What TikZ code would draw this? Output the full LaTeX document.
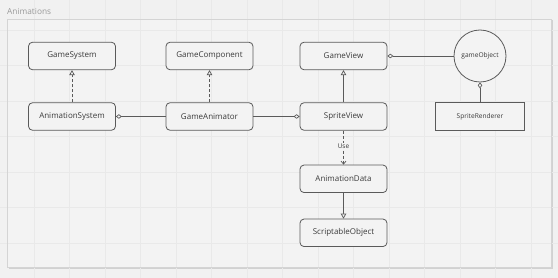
\documentclass[tikz,border=0pt]{standalone}
\usepackage{fontspec}
\setmainfont{Open Sans}
\usetikzlibrary{arrows.meta}
\definecolor{bgc}{HTML}{F1F1F1}
\definecolor{framec}{HTML}{F3F3F3}
\definecolor{gridc}{HTML}{E9E9E9}
\definecolor{linec}{HTML}{5A5A5A}
\definecolor{txtc}{HTML}{3A3A3A}
\tikzset{
  umlbox/.style={draw=linec, line width=0.8pt, fill=framec, rounded corners=4pt,
    minimum width=87pt, minimum height=27.5pt, inner sep=0pt, text=txtc,
    font=\fontsize{8}{9}\selectfont},
  plainbox/.style={draw=linec, line width=0.8pt, fill=framec,
    minimum width=88.6pt, minimum height=27.5pt, inner sep=0pt, text=txtc,
    font=\fontsize{6.6}{8}\selectfont},
  objcircle/.style={circle, draw=linec, line width=0.8pt, fill=framec,
    minimum size=52pt, inner sep=0pt, text=txtc, font=\fontsize{6.6}{8}\selectfont},
  conn/.style={draw=linec, line width=0.8pt},
  dashconn/.style={conn, dash pattern=on 3pt off 2pt},
  inherit/.style={-{Triangle[open, length=5pt, width=5.5pt, line width=0.7pt, fill=framec]}},
  aggr/.style={-{Diamond[open, length=6pt, width=4.5pt, line width=0.7pt, fill=framec]}},
  usearrow/.style={-{Straight Barb[length=3pt, width=5pt, line width=0.7pt]}},
  lbl/.style={fill=framec, inner sep=1pt, text=txtc, font=\fontsize{6.5}{7}\selectfont}
}
\begin{document}
\begin{tikzpicture}[x=1pt, y=-1pt]
\useasboundingbox (0,0) rectangle (558,278);
\fill[bgc] (0,0) rectangle (558,278);
% frame shadow and fill
\fill[black!18] (8.5,20.5) rectangle (552.5,268.5);
\fill[framec] (7,19) rectangle (551,267);
% grid
\foreach \x in {34,69.5,...,558} \draw[gridc, line width=0.5pt] (\x,0) -- (\x,278);
\foreach \y in {30,65.5,...,278} \draw[gridc, line width=0.5pt] (0,\y) -- (558,\y);
\draw[black!17, line width=0.5pt] (7,19) rectangle (551,267);
\node[anchor=west, inner sep=0pt, text=black!40, font=\fontsize{8.3}{9}\selectfont] (title) at (7,11) {Animations};
% nodes
\node[umlbox] (gs) at (72,56) {GameSystem};
\node[umlbox] (gc) at (209.5,56) {GameComponent};
\node[umlbox] (gv) at (343.5,56) {GameView};
\node[umlbox] (as) at (72,116.5) {AnimationSystem};
\node[umlbox] (ga) at (209.5,116.5) {GameAnimator};
\node[umlbox] (sv) at (343.5,116.5) {SpriteView};
\node[objcircle] (go) at (480,56) {gameObject};
\node[plainbox] (sr) at (480,116.5) {SpriteRenderer};
\node[umlbox] (ad) at (343.5,178.8) {AnimationData};
\node[umlbox] (so) at (343.5,232.8) {ScriptableObject};
% connectors
\draw[dashconn, inherit] (as) -- (gs);
\draw[dashconn, inherit] (ga) -- (gc);
\draw[conn, inherit] (sv) -- (gv);
\draw[conn, aggr] (ga) -- (as);
\draw[conn, aggr] (ga) -- (sv);
\draw[conn, aggr] (go) -- (gv);
\draw[conn, aggr] (sr) -- (go);
\draw[dashconn, usearrow] (sv) -- node[lbl, pos=0.45] {Use} (ad);
\draw[conn, inherit] (ad) -- (so);
\end{tikzpicture}
\end{document}
